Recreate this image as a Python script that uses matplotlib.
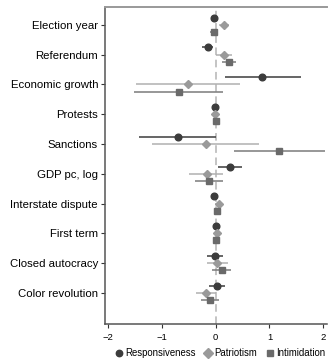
import matplotlib.pyplot as plt
import numpy as np
from matplotlib.lines import Line2D

plt.rcParams['font.family'] = ['Liberation Sans', 'DejaVu Sans']

# ---- data ----
variables = ["Election year", "Referendum", "Economic growth", "Protests", "Sanctions",
             "GDP pc, log", "Interstate dispute", "First term", "Closed autocracy",
             "Color revolution"]

resp_est = [-0.03, -0.14, 0.87, -0.01, -0.71, 0.26, -0.04, 0.01, -0.02, 0.02]
resp_lo = [-0.08, -0.26, 0.17, -0.04, -1.42, 0.04, -0.09, -0.03, -0.17, -0.12]
resp_hi = [0.02, -0.05, 1.59, 0.02, 0.00, 0.49, 0.01, 0.05, 0.13, 0.17]

patr_est = [0.15, 0.15, -0.51, -0.01, -0.19, -0.17, 0.06, 0.02, 0.02, -0.18]
patr_lo = [0.06, 0.01, -1.49, -0.05, -1.18, -0.49, -0.01, -0.04, -0.17, -0.37]
patr_hi = [0.24, 0.30, 0.46, 0.03, 0.80, 0.14, 0.13, 0.08, 0.23, 0.01]

intim_est = [-0.04, 0.24, -0.69, 0.00, 1.17, -0.13, 0.03, 0.01, 0.11, -0.11]
intim_lo = [-0.11, 0.11, -1.52, -0.03, 0.34, -0.39, -0.03, -0.04, -0.06, -0.28]
intim_hi = [0.03, 0.38, 0.14, 0.03, 2.04, 0.14, 0.09, 0.06, 0.29, 0.06]

series = [
    ("Responsiveness", resp_est, resp_lo, resp_hi, "o", "#3c3c3c", "#3c3c3c", -0.24),
    ("Patriotism", patr_est, patr_lo, patr_hi, "D", "#9a9a9a", "#b0b0b0", 0.0),
    ("Intimidation", intim_est, intim_lo, intim_hi, "s", "#6a6a6a", "#7a7a7a", 0.24),
]

fig = plt.figure(figsize=(3.28, 3.63), dpi=100)
ax = fig.add_axes([0.320, 0.107, 0.677, 0.874])

pos = np.arange(len(variables))
ax.axvline(0, color="#b4b4b4", lw=1.1, ls=(0, (5, 3)), zorder=0)

for name, est, lo, hi, mk, col, ccol, off in series:
    y = pos + off
    ax.hlines(y, lo, hi, color=ccol, lw=1.1, zorder=1)
    ax.plot(est, y, ls="none", marker=mk, color=col, ms=4.8 if mk != "D" else 4.4,
            zorder=2)

ax.set_xlim(-2.06, 2.07)
ax.set_ylim(len(variables) - 1 + 1.05, -0.6)
ax.set_yticks(pos)
ax.set_yticklabels(variables, fontsize=8.2)
ax.set_xticks([-2, -1, 0, 1, 2])
ax.tick_params(axis="x", labelsize=6.8, length=3, width=0.8, colors="#333333",
               labelcolor="black")
ax.tick_params(axis="y", length=3, width=0.8, colors="#333333", labelcolor="black", pad=2)

ax.spines["right"].set_visible(False)
for s in ["left", "bottom"]:
    ax.spines[s].set_color("#555555")
    ax.spines[s].set_linewidth(1.1)
ax.spines["top"].set_color("#999999")
ax.spines["top"].set_linewidth(1.4)

handles = [Line2D([], [], ls="none", marker=mk, color=col, ms=4.6)
           for name, est, lo, hi, mk, col, ccol, off in series]
fig.legend(handles, [s[0] for s in series], loc="lower center",
           bbox_to_anchor=(0.67, -0.01), ncol=3, frameon=False, fontsize=6.9,
           handletextpad=0.15, columnspacing=0.8, handlelength=1.0)

fig.savefig("out.png", dpi=100)
